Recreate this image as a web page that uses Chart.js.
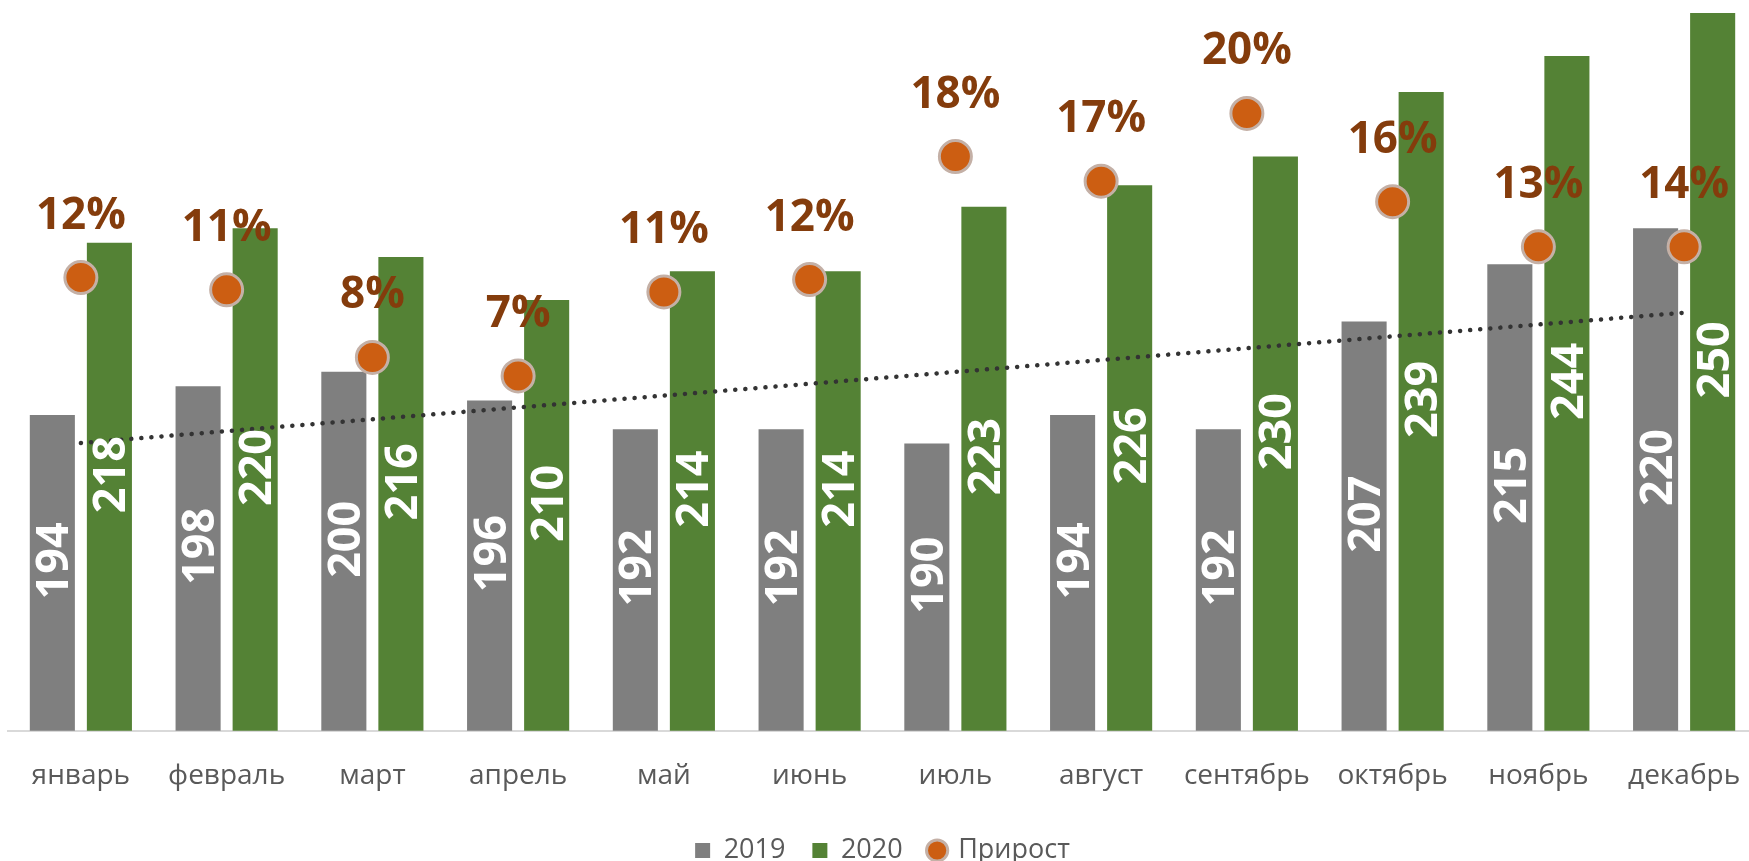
<!DOCTYPE html>
<html>
<head>
<meta charset="utf-8">
<script src="https://cdn.jsdelivr.net/npm/chart.js@4.4.0/dist/chart.umd.min.js"></script>
<style>
  html, body { margin: 0; padding: 0; background: #fff; overflow: hidden; }
  #chart { display: block; }
</style>
</head>
<body>
<canvas id="chart" width="1760" height="874"></canvas>
<script>
// data
const months = ['январь', 'февраль', 'март', 'апрель', 'май', 'июнь',
  'июль', 'август', 'сентябрь', 'октябрь', 'ноябрь', 'декабрь'];
const sales2019 = [194, 198, 200, 196, 192, 192, 190, 194, 192, 207, 215, 220];
const sales2020 = [218, 220, 216, 210, 214, 214, 223, 226, 230, 239, 244, 250];
const growth = [12.1, 11.5, 8.2, 7.3, 11.4, 12.0, 18.0, 16.8, 20.1, 15.8, 13.6, 13.6];
const growthLabels = ['12%', '11%', '8%', '7%', '11%', '12%', '18%', '17%', '20%', '16%', '13%', '14%'];

// linear trendline over 2019 (same as the Excel trendline)
const linearTrend = (values) => {
  const n = values.length;
  const mx = (n - 1) / 2;
  const my = values.reduce((a, b) => a + b, 0) / n;
  let num = 0, den = 0;
  values.forEach((v, i) => { num += (i - mx) * (v - my); den += (i - mx) * (i - mx); });
  const k = num / den;
  return values.map((v, i) => my + k * (i - mx));
};
const trend2019 = linearTrend(sales2019);

const FONT = '"Open Sans", "Noto Sans", sans-serif';

const valueLabels = {
  id: 'valueLabels',
  afterDatasetsDraw(chart) {
    const ctx = chart.ctx;
    const yScale = chart.scales.y;
    const base = chart.chartArea.bottom;
    ctx.save();
    // rotated numbers inside the bars
    ctx.font = 'bold 45px ' + FONT;
    ctx.fillStyle = '#ffffff';
    ctx.textAlign = 'center';
    ctx.textBaseline = 'alphabetic';
    [sales2019, sales2020].forEach((values, di) => {
      const meta = chart.getDatasetMeta(di);
      values.forEach((v, j) => {
        const x = meta.data[j].x;
        const top = yScale.getPixelForValue(v);
        const cy = (top + base) / 2 - 12;
        ctx.save();
        ctx.translate(x, cy);
        ctx.rotate(-Math.PI / 2);
        ctx.fillText(String(v), 0, 16);
        ctx.restore();
      });
    });
    // growth labels above the points
    ctx.font = 'bold 44px ' + FONT;
    ctx.fillStyle = '#843C0C';
    chart.getDatasetMeta(2).data.forEach((pt, j) => {
      ctx.fillText(growthLabels[j], pt.x, pt.y - 65 + 16);
    });
    ctx.restore();
  }
};

new Chart(document.getElementById('chart'), {
  type: 'bar',
  data: {
    labels: months,
    datasets: [
      {
        label: '2019',
        data: sales2019,
        backgroundColor: '#7F7F7F',
        categoryPercentage: 0.783,
        barPercentage: 0.79,
        order: 2,
      },
      {
        label: '2020',
        data: sales2020,
        backgroundColor: '#548235',
        categoryPercentage: 0.783,
        barPercentage: 0.79,
        order: 2,
      },
      {
        type: 'line',
        label: 'Прирост',
        data: growth,
        yAxisID: 'y1',
        showLine: false,
        pointRadius: 16,
        pointBorderWidth: 3,
        backgroundColor: '#CC5E12',
        borderColor: 'rgba(196,176,166,1)',
        pointBackgroundColor: '#CC5E12',
        pointBorderColor: 'rgba(196,176,166,1)',
        order: 0,
      },
      {
        type: 'line',
        label: 'trend',
        data: trend2019,
        borderColor: '#333333',
        borderWidth: 4.5,
        borderDash: [0.1, 10],
        borderCapStyle: 'round',
        pointRadius: 0,
        order: 1,
      },
    ],
  },
  options: {
    responsive: false,
    animation: false,
    layout: { autoPadding: false, padding: { left: 8, right: 3, top: 13, bottom: 0 } },
    scales: {
      x: {
        grid: { display: false, drawTicks: false },
        border: { display: true, color: '#D9D9D9', width: 2 },
        ticks: { color: '#595959', font: { family: FONT, size: 28 }, padding: 29, maxRotation: 0 },
        afterFit: (scale) => {
          scale.height = 79.3;
          scale.paddingLeft = 0;
          scale.paddingRight = 0;
        },
      },
      y: { display: false, min: 150, max: 250 },
      y1: { display: false, min: -10, max: 25 },
    },
    plugins: {
      tooltip: { enabled: false },
      legend: {
        position: 'bottom',
        labels: {
          color: '#595959',
          font: { family: FONT, size: 27 },
          usePointStyle: true,
          boxWidth: 15,
          boxHeight: 15,
          padding: 27,
          sort: (a, b) => a.datasetIndex - b.datasetIndex,
          generateLabels: (chart) => {
            const items = Chart.defaults.plugins.legend.labels.generateLabels(chart);
            return items
              .filter((it) => it.datasetIndex !== 3)
              .map((it) => {
                it.pointStyle = it.datasetIndex === 2 ? 'circle' : 'rect';
                return it;
              });
          },
        },
      },
    },
  },
  plugins: [valueLabels],
});
</script>
</body>
</html>
